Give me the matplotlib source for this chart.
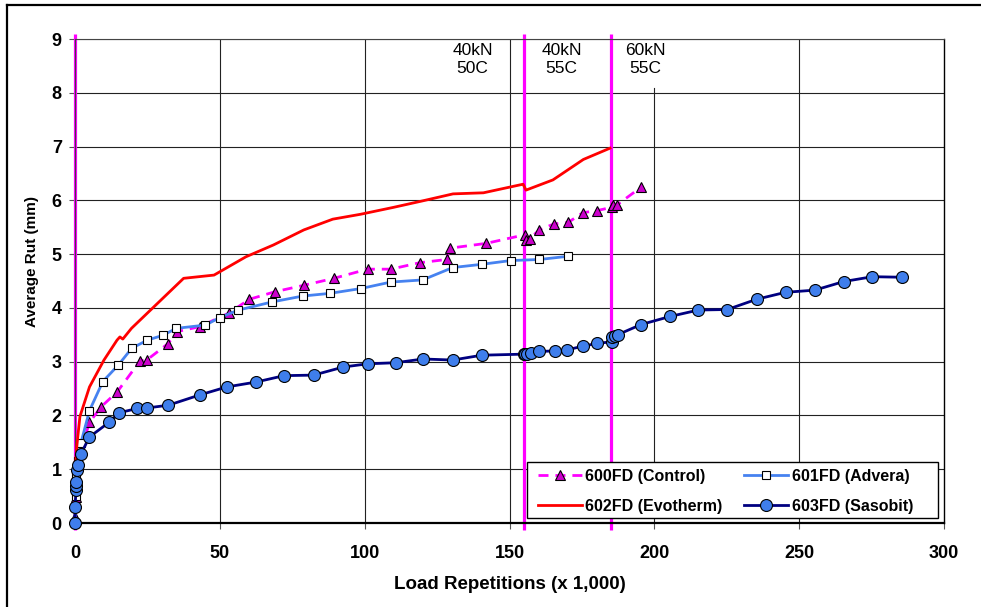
import matplotlib
matplotlib.use("Agg")
import matplotlib.pyplot as plt
from matplotlib.lines import Line2D
from matplotlib.patches import Rectangle

plt.rcParams['font.family'] = ['Liberation Sans', 'DejaVu Sans']

# ---------------- data (load repetitions x1000, average rut mm) ----------------
control_x = [0, 0.3, 0.6, 1, 2, 5, 9, 14.6, 22.4, 25, 32, 35.3, 43, 53, 60.2, 69, 79, 89.4,
             101, 109, 119, 128.3, 129.4, 142, 155.3, 155.7, 157, 160.3, 165.3, 170.3, 175.3,
             180.3, 185.3, 185.8, 187, 195.3]
control_y = [0.12, 0.49, 0.8, 1.15, 1.35, 1.87, 2.16, 2.44, 3.01, 3.04, 3.33, 3.56, 3.65, 3.90,
             4.16, 4.30, 4.42, 4.55, 4.72, 4.72, 4.84, 4.90, 5.11, 5.20, 5.36, 5.26, 5.29, 5.45,
             5.56, 5.59, 5.77, 5.81, 5.87, 5.91, 5.91, 6.24]

advera_x = [0, 0.2, 0.5, 1, 2, 5, 9.6, 15, 19.6, 25, 30.3, 35, 45, 50, 56.4, 68, 78.6, 88,
            98.7, 109, 120, 130.4, 140.4, 150.4, 160.3, 170.3]
advera_y = [0.0, 0.5, 0.85, 1.15, 1.48, 2.09, 2.63, 2.94, 3.25, 3.40, 3.49, 3.62, 3.68, 3.82,
            3.96, 4.11, 4.22, 4.27, 4.36, 4.48, 4.52, 4.75, 4.81, 4.88, 4.90, 4.96]

evotherm_x = [0.3, 0.6, 1.7, 5, 10, 14.5, 15.5, 16.5, 19.5, 37.5, 48, 59, 68.5, 79, 89, 98.5,
              110, 120, 130.5, 141, 154.7, 155.7, 165, 175.5, 184.7]
evotherm_y = [1.15, 1.42, 1.98, 2.53, 3.03, 3.40, 3.46, 3.42, 3.62, 4.55, 4.61, 4.95, 5.17,
              5.45, 5.65, 5.74, 5.87, 5.99, 6.12, 6.14, 6.30, 6.19, 6.38, 6.76, 6.97]

sasobit_x = [0, 0, 0.35, 0.35, 0.35, 0.6, 1.1, 2.0, 5, 11.7, 15.2, 21.5, 25, 32.2, 43, 52.4,
             62.4, 72.2, 82.4, 92.6, 101, 110.7, 120.2, 130.4, 140.4, 155, 155.5, 156, 157.3,
             160.3, 165.7, 169.9, 175.5, 180.3, 185.3, 185.5, 186.5, 187.3, 195.4, 205.4,
             215.2, 225.2, 235.3, 245.3, 255.4, 265.4, 275.3, 285.4]
sasobit_y = [0.0, 0.29, 0.61, 0.69, 0.77, 0.99, 1.08, 1.28, 1.60, 1.87, 2.05, 2.13, 2.14, 2.19,
             2.38, 2.53, 2.62, 2.74, 2.75, 2.90, 2.96, 2.98, 3.05, 3.03, 3.12, 3.14, 3.14, 3.15,
             3.16, 3.19, 3.20, 3.22, 3.29, 3.34, 3.37, 3.45, 3.48, 3.50, 3.69, 3.84, 3.96,
             3.97, 4.16, 4.29, 4.33, 4.49, 4.58, 4.57]

stage_changes = [0, 155, 185]
stage_labels = ["40kN\n50C", "40kN\n55C", "60kN\n55C"]
stage_label_x = [137.3, 168.0, 196.8]

series_labels = ["600FD (Control)", "601FD (Advera)", "602FD (Evotherm)", "603FD (Sasobit)"]

x_ticks = [0, 50, 100, 150, 200, 250, 300]
y_ticks = [0, 1, 2, 3, 4, 5, 6, 7, 8, 9]

# ---------------- figure ----------------
W, H = 981, 607
fig = plt.figure(figsize=(W / 100, H / 100), dpi=100)
fig.patch.set_facecolor('white')
ax = fig.add_axes([75 / W, 1 - 523 / H, (944 - 75) / W, (523 - 39) / H])

ax.set_xlim(0, 300)
ax.set_ylim(0, 9)
ax.set_xticks(x_ticks)
ax.set_yticks(y_ticks)

# horizontal grid
ax.grid(axis='y', color='#222222', lw=0.8, zorder=0.5)
ax.set_axisbelow(True)
# vertical grid (the 200 line is hidden behind the "60kN 55C" label at the top)
for xv in x_ticks[1:-1]:
    top = 8.09 if xv == 200 else 9
    ax.plot([xv, xv], [0, top], color='#222222', lw=0.8, zorder=0.6)

for s in ['left', 'top']:
    ax.spines[s].set_color('#444444')
    ax.spines[s].set_linewidth(0.8)
ax.spines['right'].set_color('black')
ax.spines['right'].set_linewidth(1.0)
ax.spines['bottom'].set_color('black')
ax.spines['bottom'].set_linewidth(1.6)

ax.tick_params(axis='both', direction='out', color='#555555', width=0.8, labelsize=13)
ax.tick_params(axis='x', length=4.5, pad=11)
ax.tick_params(axis='y', length=4.5, pad=5)
for lab in ax.get_xticklabels() + ax.get_yticklabels():
    lab.set_fontweight('bold')

# stage-change lines
for xv in stage_changes:
    ax.plot([xv, xv], [-0.13, 9.1], color='#FF00FF', lw=2.3, clip_on=False, zorder=2,
            solid_capstyle='butt')

for xv, txt in zip(stage_label_x, stage_labels):
    ax.text(xv, 8.92, txt, ha='center', va='top', fontsize=12.5, linespacing=1.2, zorder=5)

# series
l_control, = ax.plot(control_x, control_y, color='#FF00FF', lw=2.0, ls=(0, (3.6, 2.5)),
                     marker='^', ms=6.5, mfc='#CC00CC', mec='black', mew=0.8, zorder=3,
                     clip_on=False, label=series_labels[0])
l_advera, = ax.plot(advera_x, advera_y, color='#4682F0', lw=2.0, marker='s', ms=5.3,
                    mfc='white', mec='black', mew=0.8, zorder=3.2, clip_on=False,
                    label=series_labels[1])
l_evo, = ax.plot(evotherm_x, evotherm_y, color='#FF0000', lw=2.0, zorder=3.4,
                 clip_on=False, label=series_labels[2])
l_sas, = ax.plot(sasobit_x, sasobit_y, color='#000080', lw=2.0, marker='o', ms=8.6,
                 mfc='#3F7EEC', mec='black', mew=0.8, zorder=3.6, clip_on=False,
                 label=series_labels[3])

# legend box drawn separately so its padding matches the original
box = Rectangle((527 / W, 1 - 518 / H), 411 / W, 56 / H, transform=fig.transFigure,
                facecolor='white', edgecolor='black', lw=1.0, zorder=9, clip_on=False)
ax.add_patch(box)
leg = ax.legend(handles=[l_control, l_evo, l_advera, l_sas], ncol=2, loc='center',
                bbox_to_anchor=(725.5 / W, 1 - 491.3 / H), bbox_transform=fig.transFigure,
                borderaxespad=0, prop={'weight': 'bold', 'size': 11.5}, frameon=False,
                handlelength=2.75, handletextpad=0.2, columnspacing=1.38,
                labelspacing=0.92, borderpad=0)
leg.set_zorder(10)

ax.set_xlabel("Load Repetitions (x 1,000)", fontsize=13.5, fontweight='bold')
ax.set_ylabel("Average Rut (mm)", fontsize=11, fontweight='bold')
ax.xaxis.set_label_coords(0.5, -0.1095)
ax.yaxis.set_label_coords(-0.041, 0.540)

# outer figure border (left and top visible)
fig.add_artist(Line2D([7 / W, 7 / W], [0, 1 - 5 / H], transform=fig.transFigure,
                      color='black', lw=1.6))
fig.add_artist(Line2D([7 / W, 1], [1 - 5 / H, 1 - 5 / H], transform=fig.transFigure,
                      color='black', lw=1.6))

fig.savefig("out.png", dpi=100)
